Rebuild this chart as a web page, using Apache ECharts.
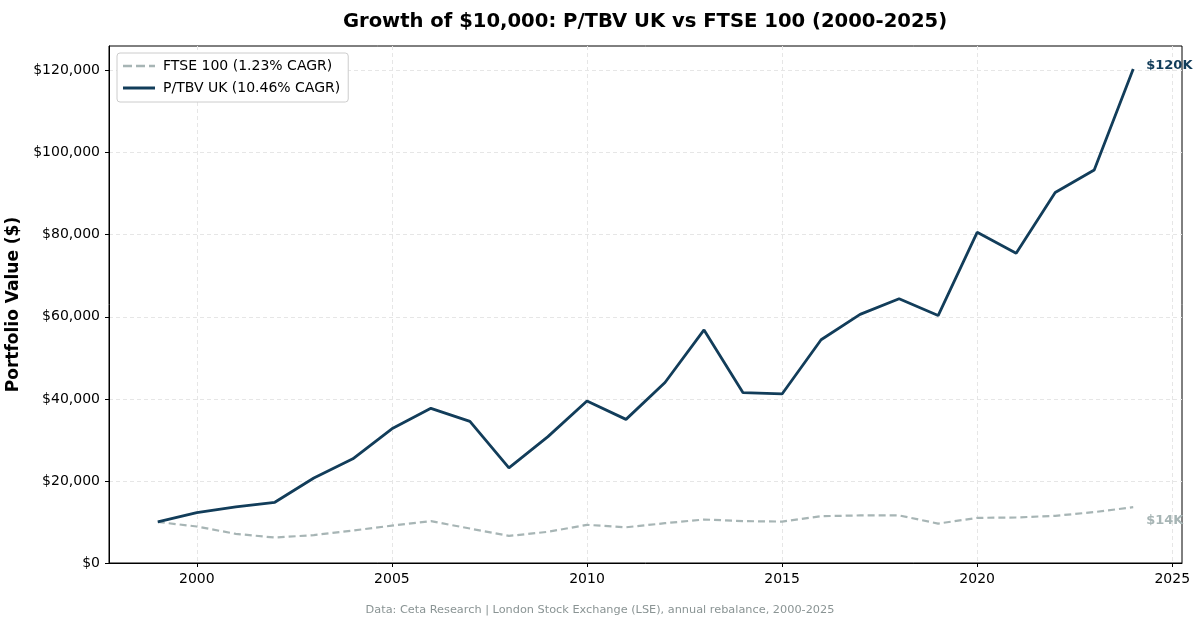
<!DOCTYPE html>
<html>
<head>
<meta charset="utf-8">
<script src="https://cdn.jsdelivr.net/npm/echarts@6/dist/echarts.min.js"></script>
<style>
  html, body { margin: 0; padding: 0; background: #fff; }
  #main { width: 1200px; height: 628px; }
</style>
</head>
<body>
<div id="main"></div>
<script>
// 年份（年末值）
var years = [1999, 2000, 2001, 2002, 2003, 2004, 2005, 2006, 2007, 2008, 2009, 2010, 2011,
  2012, 2013, 2014, 2015, 2016, 2017, 2018, 2019, 2020, 2021, 2022, 2023, 2024];

// P/TBV UK 组合价值
var ptbvValues = [10000, 12300, 13700, 14800, 20700, 25400, 32700, 37700, 34500, 23200, 30800, 39500, 35000,
  44000, 56800, 41500, 41200, 54400, 60600, 64400, 60300, 80600, 75500, 90300, 95800, 120400];

// FTSE 100 价值
var ftseValues = [10000, 8900, 7100, 6200, 6800, 7900, 9100, 10200, 8400, 6600, 7600, 9300, 8700,
  9700, 10600, 10200, 10100, 11400, 11600, 11600, 9600, 11000, 11100, 11500, 12400, 13600];

var xTicks = [2000, 2005, 2010, 2015, 2020, 2025];

var navy = '#123d5a';
var grey = '#a7b5b5';
var font = 'DejaVu Sans';

function pairs(vals) {
  return years.map(function (y, i) { return [y, vals[i]]; });
}

var myChart = echarts.init(document.getElementById('main'));

var option = {
  animation: false,
  textStyle: { fontFamily: font },
  title: {
    text: 'Growth of $10,000: P/TBV UK vs FTSE 100 (2000-2025)',
    left: 640,
    textAlign: 'center',
    top: 7,
    textStyle: { fontFamily: font, fontSize: 19.6, fontWeight: 'bold', color: '#000' }
  },
  legend: {
    orient: 'vertical',
    left: 117,
    top: 53,
    padding: [6, 8, 7, 6],
    itemGap: 8,
    itemWidth: 32,
    itemHeight: 3,
    backgroundColor: '#fff',
    borderColor: '#cccccc',
    borderWidth: 1,
    borderRadius: 3,
    textStyle: { fontFamily: font, fontSize: 14, color: '#000', padding: [0, 0, 0, 3] },
    data: [
      { name: 'FTSE 100 (1.23% CAGR)', icon: 'path://M0,0H9V2.4H0Z M13,0H22V2.4H13Z M26,0H32V2.4H26Z' },
      { name: 'P/TBV UK (10.46% CAGR)', icon: 'path://M0,0H32V3H0Z' }
    ]
  },
  grid: {
    left: 109, right: 18, top: 46, bottom: 65,
    outerBoundsMode: 'none',
    show: true, borderColor: '#000', borderWidth: 1
  },
  xAxis: {
    type: 'value',
    min: 1997.75,
    max: 2025.25,
    axisLine: { show: true, lineStyle: { color: '#000' } },
    axisTick: { show: true, inside: false, length: 4, lineStyle: { color: '#000' }, customValues: xTicks },
    axisLabel: {
      color: '#000', fontSize: 14, fontFamily: font, margin: 9, customValues: xTicks,
      formatter: function (v) { return String(v); }
    },
    splitLine: { show: true, lineStyle: { color: '#e6e6e6', type: [4, 3] } }
  },
  yAxis: {
    type: 'value',
    min: 0,
    max: 126000,
    interval: 20000,
    name: 'Portfolio Value ($)',
    nameLocation: 'middle',
    nameGap: 80,
    nameTextStyle: { fontFamily: font, fontSize: 17, fontWeight: 'bold', color: '#000' },
    axisLine: { show: true, lineStyle: { color: '#000' } },
    axisTick: { show: true, inside: false, length: 4, lineStyle: { color: '#000' } },
    axisLabel: {
      color: '#000', fontSize: 14, fontFamily: font, margin: 9, showMaxLabel: false,
      formatter: function (v) { return '$' + v.toLocaleString('en-US'); }
    },
    splitLine: { show: true, showMaxLine: false, showMinLine: false, lineStyle: { color: '#e6e6e6', type: [4, 3] } }
  },
  series: [
    {
      name: 'FTSE 100 (1.23% CAGR)',
      type: 'line',
      data: pairs(ftseValues),
      symbol: 'none',
      color: grey,
      lineStyle: { color: grey, width: 2.2, type: [7, 4] },
      endLabel: {
        show: true,
        formatter: '$14K',
        color: grey,
        fontFamily: font,
        fontSize: 13,
        fontWeight: 'bold',
        offset: [5, 13]
      }
    },
    {
      name: 'P/TBV UK (10.46% CAGR)',
      type: 'line',
      data: pairs(ptbvValues),
      symbol: 'none',
      color: navy,
      lineStyle: { color: navy, width: 2.8 },
      endLabel: {
        show: true,
        formatter: '$120K',
        color: navy,
        fontFamily: font,
        fontSize: 13,
        fontWeight: 'bold',
        offset: [5, -3]
      }
    }
  ],
  graphic: [
    {
      type: 'text',
      left: 'center',
      top: 605,
      style: {
        text: 'Data: Ceta Research | London Stock Exchange (LSE), annual rebalance, 2000-2025',
        fontFamily: font,
        fontSize: 11.3,
        fill: '#8a9494'
      }
    }
  ]
};

myChart.setOption(option);
</script>
</body>
</html>
